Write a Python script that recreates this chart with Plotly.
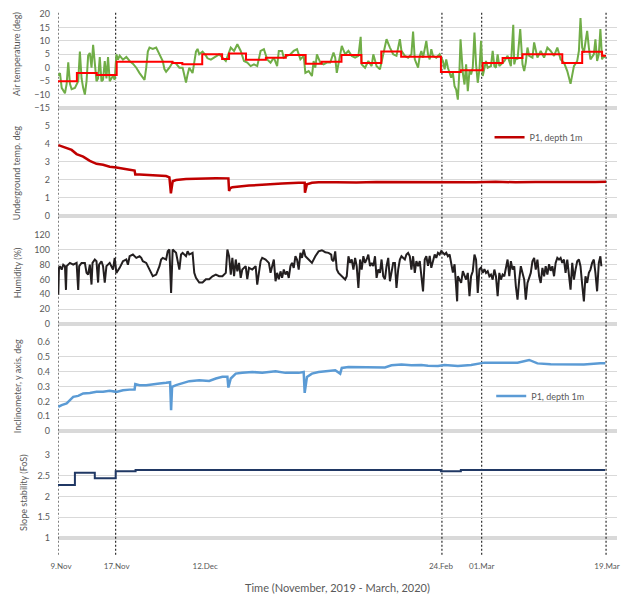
import plotly.graph_objects as go

FONT = "Lato"

# ---------------- data (record index = irregular sample number) ----------------
air_idx = [0.3, 2, 3.7, 7, 8.7, 10.3, 12, 13.7, 17, 20.3, 22, 23.7, 25.3, 27, 28.7, 30.3, 32, 33.7, 35.3, 37,
           38.7, 40.3, 42, 43.7, 45.3, 47, 48.7, 50.3, 52, 55.3, 57, 58.7, 60.3, 62, 65.3, 68.7, 72, 75.3, 78.7, 82,
           85.3, 87, 88.7, 90.3, 92, 95.3, 98.7, 102, 105.3, 107, 108.7, 112, 115.3, 118.7, 122, 125.3, 128.7, 130.3, 132, 133.7,
           135.3, 138.7, 140.3, 142, 145.3, 148.7, 150.3, 153.7, 158.7, 162, 165.3, 168.7, 173.7, 177, 180.3, 183.7, 187, 190.3, 193.7, 197,
           200.3, 203.7, 207, 210.3, 213.7, 217, 220.3, 222, 225.3, 227, 230.3, 233.7, 237, 240.3, 243.7, 247, 248.7, 252, 255.3, 257,
           258.7, 260.3, 263.7, 267, 270.3, 273.7, 277, 278.7, 280.3, 282, 285.3, 288.7, 292, 295.3, 298.7, 302, 304.3, 305.3, 308.7, 312,
           315.3, 317, 320.3, 323.7, 327, 330.3, 333.7, 337, 340.3, 343.7, 345.3, 348.7, 352, 355.3, 357, 358.7, 362, 363.7, 365.3, 367,
           370.3, 372, 373.7, 375.3, 377, 380.3, 383.7, 385.3, 387, 388.7, 390.3, 392, 395.3, 397, 398.7, 400.3, 402, 403.7, 404.7, 407,
           408.7, 410.3, 412, 413.7, 415.3, 417, 418.7, 420.3, 422, 423.7, 425.3, 427, 428.7, 430.3, 432, 435.3, 437, 438.7, 440.3, 442,
           443.7, 445.3, 447, 448.7, 452, 455.3, 457.7, 458.7, 460.3, 462, 464.7, 467, 468.7, 470.3, 472, 473.7, 477, 478.7, 482, 485.3,
           488.7, 492, 495.3, 498.7, 502, 505.3, 508.7, 512, 515.3, 517, 518.7, 522, 523.7, 525.3, 527, 528.7, 532, 533.7, 535.3, 538.7,
           540.3, 542, 543.7, 545.3, 547, 548.7, 550.3]
air_temp = [-3, -2, -7.5, -9.5, -6, 2, -6, -8, -7.5, -5, 6, -4, -7.5, -10, -5, 4.5, 5.5, 0, 8.5, 2.5,
            -5, -4, 4, -5, -4.5, 2.5, -4, 4, -5, -3, -4.5, 5, 3, 4.5, 3, 4, 2.5, 1.5, 0, -2,
            -3.5, -4.5, 0, 6, 7.5, 7, 7.5, 5, 2.5, -0.5, -1.5, 0, 2, 1.5, 0, 0, -5.5, -2.5, 0, -1,
            -2, 6, 7, 5, 6, 4.5, 3.5, 3, 4.4, 5, 3.75, 2.5, 7.5, 6.25, 8.75, 6.25, 2.5, 1.9, 0.6, 1.25,
            0.6, 6.25, 6.9, 3.1, 1.9, 3.75, 0.6, 6.25, 6.25, 3.75, 4.4, 5, 6.25, 6.9, 3.1, 4.4, -1.9, -1.25, -3.1, 2.5,
            0, 5, 1.9, 1.25, 1.9, 1.9, 5.6, 3.75, -1.9, 1.25, 8.1, 5, 6.25, 4.4, 3.75, 4.4, 11.5, 1.25, 0, 2.5,
            0.6, 5, 0.6, -0.6, 5.6, 10.6, 7.5, 5, 4.4, 10.6, 6.25, 4.4, 3.75, 5, 13.5, 3.1, 0, 4.4, 6.25, 3.75,
            10, 5, 3.1, 6.9, 4.4, 3.75, 5, 3.75, 2.5, -0.6, 3.1, 0, -3.75, -1.9, -6.9, -8.1, -11.9, 0, 10.6, -1.9,
            -6.25, 1.25, -8.75, -1.25, -2.5, 0, 13.1, 1.25, -5.6, -0.6, 10, -3.1, 0.6, 2.5, 0, 0.6, 6.25, 0.6, 0, 5,
            0.6, 1.25, 1.9, 2.5, 4.4, 0.6, 16, 1.25, 3.75, 3.1, 14.4, 1.25, -1.25, 1.9, 7.5, 4.4, 3.75, 9.4, 3.75, 6.25,
            3.75, 7.5, 6.25, 4.4, 7.5, 3.1, 1.9, -1.25, -6, -2.5, 0.6, 2.5, 6.25, 18.5, 7.5, 5.6, 13.75, 7.5, 3.1, 5,
            10.6, 2.5, 5, 14.4, 3.1, 4.4, 3.75]

mean_idx = [0, 19, 39, 59, 115, 125, 145, 165, 172, 189, 209, 229, 249, 265, 285, 305, 325, 345, 385, 405,
            427, 447, 467, 507, 527, 547, 551]
mean_temp = [-5, -2, -2.75, 2.25, 1.75, 1.25, 5, 3.25, 5.25, 3, 3.75, 4.75, 1.5, 2.25, 4.75, 1.75, 6, 4.1, -1.6, -0.9,
             1.75, 3.6, 5, 1.75, 5.9, 4.5, 4.5]

ground_idx = [0.3, 8.7, 13.7, 18.7, 25.3, 32, 38.7, 45.3, 52, 58.7, 65.3, 72, 77, 77.7, 82, 92, 102, 108.7, 112, 113.5,
              115.3, 118.7, 128.7, 142, 158.7, 171.3, 172, 173, 175.3, 192, 208.7, 225.3, 242, 248, 248.3, 250.3, 255.3, 262, 280, 300,
              320, 340, 360, 380, 400, 420, 440, 460, 480, 500, 520, 540, 551]
ground_temp = [3.94, 3.76, 3.67, 3.44, 3.3, 3.06, 2.9, 2.85, 2.74, 2.69, 2.65, 2.57, 2.52, 2.3, 2.3, 2.27, 2.24, 2.22, 2.15, 1.26,
               1.93, 2.0, 2.06, 2.09, 2.1, 2.09, 1.39, 1.54, 1.6, 1.69, 1.76, 1.8, 1.85, 1.85, 1.3, 1.76, 1.85, 1.87, 1.88, 1.86,
               1.89, 1.88, 1.9, 1.87, 1.89, 1.88, 1.9, 1.87, 1.89, 1.88, 1.87, 1.89, 1.9]

hum_idx = [0.3, 1, 2, 3.7, 5.3, 7, 8, 8.7, 12, 15.3, 18.7, 20.3, 21.3, 23.7, 27, 28.7, 30.3, 32, 33.7, 34.7,
           37, 38.7, 40.3, 41.3, 43.7, 45.3, 47, 48.7, 52, 55.3, 57, 58.7, 62, 65.3, 68.7, 70.3, 72, 75.3, 78.7, 82,
           83.7, 85.3, 88.7, 92, 93.7, 95.3, 98.7, 102, 103.7, 105.3, 108.7, 110.3, 112, 113.7, 115.3, 118.7, 122, 123.7, 125.3, 128.7,
           130.3, 132, 135.3, 137, 138.7, 142, 145.3, 148.7, 152, 155.3, 158.7, 162, 165.3, 168.7, 170.3, 172, 173.7, 175.3, 177, 178.7,
           180.3, 182, 183.7, 185.3, 188.7, 190.3, 192, 195.3, 198.7, 200.3, 202, 203.7, 205.3, 208.7, 212, 213.7, 217, 218.7, 220.3, 222,
           223.7, 225.3, 227, 228.7, 230.3, 232, 233.7, 235.3, 237, 238.7, 240.3, 242, 243.7, 245.3, 247, 248.7, 252, 255.3, 258.7, 262,
           265.3, 268.7, 272, 274.7, 275.3, 277, 278.7, 280.3, 282, 285.3, 288.7, 290.3, 292, 293.7, 295.3, 297, 298.7, 300.3, 302, 303.7,
           305.3, 307, 308.7, 310.3, 312, 313.7, 315.3, 317, 318.7, 320.3, 322, 323.7, 325.3, 327, 328.7, 330.3, 332, 333.7, 335.3, 337,
           338.7, 340.3, 342, 343.7, 345.3, 348.7, 350.3, 352, 353.7, 355.3, 357, 358.7, 360.3, 362, 363.7, 365.3, 367, 368.7, 370.3, 372,
           373.7, 375.3, 377, 378.7, 380.3, 382, 383.7, 385.3, 387, 388.7, 390.3, 392, 393.7, 395.3, 397, 398.7, 400.3, 401.3, 402, 403.7,
           405.3, 407, 408.7, 410.3, 412, 413.7, 415.3, 417, 418.7, 420.3, 422, 423.7, 425.3, 427, 428.7, 430.3, 432, 433.7, 435.3, 437,
           438.7, 440.3, 442, 443.7, 445.3, 447, 448.7, 450.3, 452, 453.7, 455.3, 457, 458.7, 460.3, 462, 463.7, 465.3, 467, 468.7, 470.3,
           472, 475.3, 477, 478.7, 480.3, 482, 483.7, 485.3, 487, 488.7, 490.3, 492, 493.7, 495.3, 497, 498.7, 500.3, 502, 503.7, 505.3,
           507, 508.7, 510.3, 512, 513.7, 515.3, 517, 518.7, 520.3, 522, 523.7, 525.3, 527, 528.7, 530.3, 532, 533.7, 535.3, 537, 538.7,
           540.3, 542, 543.7, 545.3, 546.3]
humidity = [39.6, 75.7, 78, 73.4, 80, 78, 46, 78, 82.4, 80, 82.4, 46, 78, 82.4, 82.4, 69, 66.7, 80, 53.2, 82.4,
            87, 84.7, 55.9, 80, 84.7, 78, 55.9, 78, 82.4, 73.4, 89, 68.9, 75.7, 84.7, 87, 80, 91.4, 93.7, 89.2, 91.4,
            89.2, 84.7, 82.4, 73.4, 68.9, 64.4, 66.7, 78, 87, 89.2, 87, 98, 100.4, 42, 100.4, 96, 73.4, 93.7, 96, 91.4,
            98, 93.7, 96, 68.9, 62.2, 55.9, 55.9, 60.4, 60.4, 64.4, 66.7, 64.4, 64.4, 69, 100.4, 91.4, 66.7, 89.2, 64.4, 87,
            71, 82.4, 62.2, 73.4, 78, 60.4, 75.7, 73.4, 78, 53.2, 69, 84.7, 89.2, 87, 82.4, 69, 87, 57.7, 69, 60.4,
            71, 62.2, 73.4, 66.7, 71, 62.2, 78, 82.4, 75.7, 91.4, 87, 73.4, 96, 89.2, 100.4, 91.4, 87, 82.4, 91.4, 98,
            99.5, 96.8, 95.9, 93.7, 87, 84.7, 98, 73.4, 69, 64.4, 60, 64.4, 91.4, 82.4, 87, 73.4, 89.2, 78, 48.6, 87,
            73.4, 91.4, 82.4, 87, 93.7, 78, 82.4, 78, 91.4, 62.2, 73.4, 69, 87, 64.4, 60.4, 78, 89.2, 57.7, 69, 82.4,
            82.4, 48.6, 73.4, 87, 91.4, 87, 93.7, 96, 91.4, 73.4, 91.4, 69, 84.7, 78, 84.7, 64.4, 44, 87, 91.4, 78.4,
            91.9, 75.7, 86.9, 93.7, 89.2, 96, 93.7, 98.2, 96, 93.7, 96, 91.4, 93.7, 78.4, 69.4, 80.6, 51.4, 30.6, 64.4, 59.9,
            55.4, 71.2, 64.4, 59.9, 68.9, 37.4, 64.4, 71.2, 93.7, 86.9, 41.9, 73.9, 76.1, 68.9, 73.9, 68.9, 71.2, 64.4, 66.7, 59.9,
            73.4, 64.4, 37.4, 68.9, 59.9, 66.7, 64.4, 77.9, 86.9, 64.4, 84.7, 73.4, 77.9, 50.9, 32.9, 59.9, 77.9, 68.9, 59.9, 32.9,
            55.4, 68.9, 84.7, 89.2, 73.4, 86.9, 64.4, 55.4, 75.7, 64.4, 77.9, 66.7, 80.6, 71.7, 77.9, 64.4, 82.4, 89.2, 86.9, 89.2,
            82.4, 86.9, 68.9, 86.9, 64.4, 46.4, 82.4, 59.9, 73.4, 84.7, 86.9, 77.9, 53.2, 30.6, 64.4, 55.4, 68.9, 73.4, 82.4, 86.9,
            68.9, 44.1, 82.4, 91.4, 77.9]

incl_idx = [0.3, 3.7, 8.7, 12, 15.3, 20.3, 25.3, 32, 38.7, 45.3, 52, 58.7, 65.3, 72, 77, 77.7, 82, 88.7, 95.3, 102,
            108.7, 112.7, 113.7, 114.7, 118.7, 125.3, 132, 142, 152, 158.7, 165.3, 170.3, 171.3, 173.7, 178.7, 185.3, 195.3, 205.3, 212, 218.7,
            228.7, 235.3, 242, 247, 248, 250.3, 255.3, 262, 272, 278.7, 283.7, 285.3, 292, 302, 312, 318.7, 328.7, 335.3, 345.3, 355.3,
            365.3, 372, 382, 388.7, 402, 415.3, 428.7, 445.3, 462, 473.7, 482, 495.3, 512, 528.7, 545.3, 550.3]
incl = [0.163, 0.175, 0.186, 0.208, 0.23, 0.237, 0.253, 0.257, 0.264, 0.264, 0.271, 0.264, 0.275, 0.279, 0.28, 0.316, 0.309, 0.309, 0.316, 0.32,
        0.325, 0.329, 0.141, 0.298, 0.309, 0.325, 0.336, 0.342, 0.338, 0.354, 0.365, 0.365, 0.293, 0.354, 0.387, 0.392, 0.398, 0.392, 0.398, 0.403,
        0.392, 0.392, 0.392, 0.398, 0.257, 0.365, 0.387, 0.398, 0.403, 0.41, 0.387, 0.425, 0.432, 0.432, 0.432, 0.429, 0.429, 0.443, 0.448, 0.443,
        0.445, 0.44, 0.438, 0.445, 0.438, 0.445, 0.461, 0.461, 0.461, 0.479, 0.456, 0.45, 0.447, 0.449, 0.456, 0.456]

fos_idx = [0, 17, 37, 58, 78, 385, 405, 550]
fos = [2.28, 2.57, 2.44, 2.61, 2.64, 2.61, 2.64, 2.64]

event_idx = [0, 58, 386, 426, 551]
tick_idx = [3, 59, 148, 385, 426, 552]
tick_labels = ["9.Nov", "17.Nov", "12.Dec", "24.Feb", "01.Mar", "19.Mar"]

# ---------------- figure ----------------
GRAY = "#595959"
GRID = "#D9D9D9"

fig = go.Figure()
fig.add_trace(go.Scatter(x=air_idx, y=air_temp, mode="lines", yaxis="y",
                         line=dict(color="#70AD47", width=2), showlegend=False))
fig.add_trace(go.Scatter(x=mean_idx, y=mean_temp, mode="lines", yaxis="y",
                         line=dict(color="#FF0000", width=2, shape="hv"), showlegend=False))
fig.add_trace(go.Scatter(x=ground_idx, y=ground_temp, mode="lines", yaxis="y2", name="P1, depth 1m",
                         line=dict(color="#C00000", width=2.5), legend="legend"))
fig.add_trace(go.Scatter(x=hum_idx, y=humidity, mode="lines", yaxis="y3",
                         line=dict(color="#231F20", width=2), showlegend=False))
fig.add_trace(go.Scatter(x=incl_idx, y=incl, mode="lines", yaxis="y4", name="P1, depth 1m",
                         line=dict(color="#5B9BD5", width=2.5), legend="legend2"))
fig.add_trace(go.Scatter(x=fos_idx, y=fos, mode="lines", yaxis="y5",
                         line=dict(color="#203864", width=2, shape="hv"), showlegend=False))

def yax(domain, rng, dtick):
    return dict(domain=domain, range=rng, dtick=dtick, tick0=rng[0], anchor="x",
                showgrid=True, gridcolor=GRID, gridwidth=1, zeroline=False, showline=False,
                ticks="", ticklabelstandoff=7, fixedrange=True,
                tickfont=dict(family=FONT, size=9, color=GRAY))

fig.update_layout(
    width=628, height=595,
    margin=dict(l=58, r=8, t=14, b=57),
    paper_bgcolor="white", plot_bgcolor="white",
    font=dict(family=FONT, color=GRAY),
    xaxis=dict(domain=[0, 1], range=[0, 562], anchor="y5", showgrid=False, zeroline=False,
               showline=False, tickvals=tick_idx, ticktext=tick_labels,
               ticks="outside", ticklen=20, tickcolor="rgba(0,0,0,0)",
               tickfont=dict(family=FONT, size=8, color=GRAY)),
    yaxis=yax([0.8206, 1.0], [-15, 20], 5),
    yaxis2=yax([0.6145, 0.7863], [0, 5], 1),
    yaxis3=yax([0.4084, 0.5782], [0, 120], 20),
    yaxis4=yax([0.2042, 0.3740], [0, 0.6], 0.1),
    yaxis5=yax([0.0, 0.1584], [1, 3], 0.5),
    legend=dict(x=0.772, y=0.765, xanchor="left", yanchor="middle", bgcolor="rgba(0,0,0,0)",
                font=dict(family=FONT, size=9, color=GRAY)),
    legend2=dict(x=0.775, y=0.271, xanchor="left", yanchor="middle", bgcolor="rgba(0,0,0,0)",
                 font=dict(family=FONT, size=9, color=GRAY)),
)

# thick baseline bands at the bottom of each panel
for yref in ["y domain", "y2 domain", "y3 domain", "y4 domain", "y5 domain"]:
    fig.add_shape(type="line", xref="paper", yref=yref, x0=0, x1=1, y0=0, y1=0,
                  line=dict(color=GRID, width=4), layer="below")

# event marker lines
for ev in event_idx:
    fig.add_shape(type="line", xref="x", yref="paper", x0=ev, x1=ev, y0=-0.032, y1=1.004,
                  line=dict(color="black", width=1, dash="2px,2px"), layer="below")

# axis titles
titles = [("Air temperature (deg)", -0.073, 0.924),
          ("Underground temp. deg", -0.073, 0.6966),
          ("Humidity (%)", -0.073, 0.5057),
          ("Inclinometer, y axis, deg", -0.073, 0.290),
          ("Slope stability (FoS)", -0.061, 0.0878)]
for txt, xp, yp in titles:
    fig.add_annotation(text=txt, xref="paper", yref="paper", x=xp, y=yp, textangle=-90,
                       showarrow=False, xanchor="center", yanchor="middle",
                       font=dict(family=FONT, size=9, color=GRAY))
fig.add_annotation(text="Time (November, 2019 - March, 2020)", xref="paper", yref="paper",
                   x=0.5, y=-0.0954, showarrow=False, xanchor="center", yanchor="middle",
                   font=dict(family=FONT, size=11, color=GRAY))

fig.write_html("out.html", config={"displayModeBar": False},
               post_script="document.body.style.margin='0px';document.body.style.overflow='hidden';")
